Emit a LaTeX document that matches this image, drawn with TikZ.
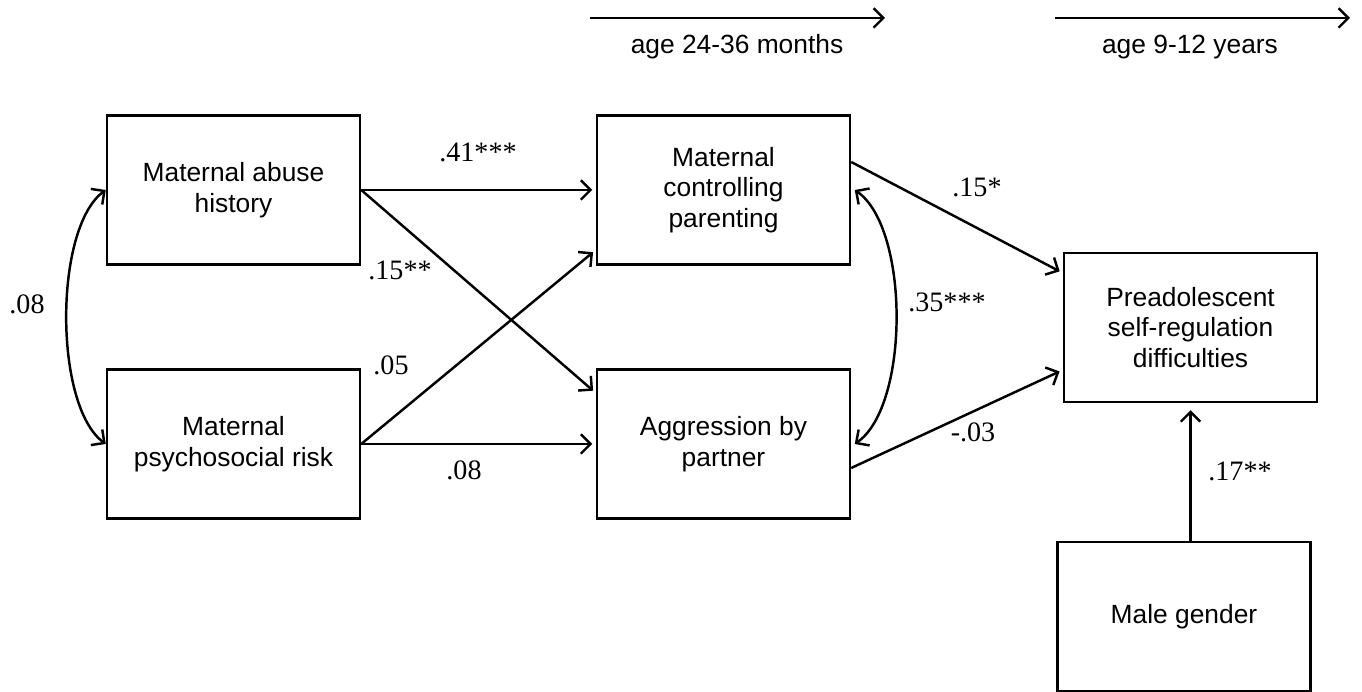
\documentclass[tikz,border=0pt]{standalone}
\usepackage{fontspec}
\usepackage{tikz}
\usetikzlibrary{arrows.meta}
\newfontfamily\boxfont{Liberation Sans}
\newfontfamily\coeffont{Liberation Serif}

\begin{document}
\begin{tikzpicture}[
		box/.style = {draw, line width = 1.4pt, minimum width = 5.06cm, minimum height = 2.98cm, align = center, font = \boxfont\fontsize{15}{17.5}\selectfont},
		coef/.style = {font = \coeffont\fontsize{16}{18}\selectfont},
		path/.style = {line width = 1.4pt, -{Straight Barb[length = 5.5pt, width = 11pt, line width = 1.4pt]}, shorten > = 2pt},
		cov/.style = {line width = 1.4pt, {Straight Barb[length = 5.5pt, width = 11pt, line width = 1.4pt]}-{Straight Barb[length = 5.5pt, width = 11pt, line width = 1.4pt]}}
	]
		\useasboundingbox (0,0) rectangle (27.24,13.84);

		\node[box] (abuse) at (4.67,10.04) {Maternal abuse\\history};
		\node[box] (risk) at (4.67,4.96) {Maternal\\psychosocial risk};
		\node[box] (control) at (14.47,10.04) {Maternal\\controlling\\parenting};
		\node[box] (aggr) at (14.47,4.96) {Aggression by\\partner};
		\node[box] (pre) at (23.81,7.29) {Preadolescent\\self-regulation\\difficulties};
		\node[box] (male) at (23.68,1.51) {Male gender};

		\coordinate (toddlerstart) at (11.8,13.48);
		\coordinate (toddlerend) at (17.7,13.48);
		\coordinate (preteenstart) at (21.1,13.48);
		\coordinate (preteenend) at (27.0,13.48);
		\draw[path, shorten > = 0pt] (toddlerstart) -- (toddlerend);
		\draw[path, shorten > = 0pt] (preteenstart) -- (preteenend);
		\node[font = \boxfont\fontsize{15}{17.5}\selectfont] (toddler) at (14.74,12.90) {age 24-36 months};
		\node[font = \boxfont\fontsize{15}{17.5}\selectfont] (preteen) at (23.8,12.90) {age 9-12 years};

		\draw[path] (abuse.east) -- (control.west);
		\draw[path] (abuse.east) -- ([yshift = 1.02cm]aggr.west);
		\draw[path] (risk.east) -- ([yshift = -1.2cm]control.west);
		\draw[path] (risk.east) -- (aggr.west);
		\draw[path] ([yshift = 0.56cm]control.east) -- ([yshift = 1.09cm]pre.west);
		\draw[path] ([yshift = -0.48cm]aggr.east) -- ([yshift = -0.85cm]pre.west);
		\draw[path, shorten > = 4pt] (pre.south |- male.north) -- (pre.south);

		\draw[cov] (abuse.west) .. controls +(-1.04,-0.76) and +(-1.04,0.76) .. (risk.west);
		\draw[cov] ([xshift = 2pt]control.east) .. controls +(1.1,-0.76) and +(1.1,0.76) .. ([xshift = 2pt]aggr.east);

		\node[coef] (abuseCtrl) at (9.56,10.80) {.41***};
		\node[coef] (abuseAggr) at (8.0,8.44) {.15**};
		\node[coef] (riskCtrl) at (7.82,6.54) {.05};
		\node[coef] (riskAggr) at (9.28,4.44) {.08};
		\node[coef] (ctrlPre) at (19.54,10.10) {.15*};
		\node[coef] (ctrlAggr) at (18.94,7.80) {.35***};
		\node[coef] (aggrPre) at (19.46,5.20) {-.03};
		\node[coef] (malePre) at (24.8,4.42) {.17**};
		\node[coef] (abuseRisk) at (0.54,7.76) {.08};
	\end{tikzpicture}
\end{document}
